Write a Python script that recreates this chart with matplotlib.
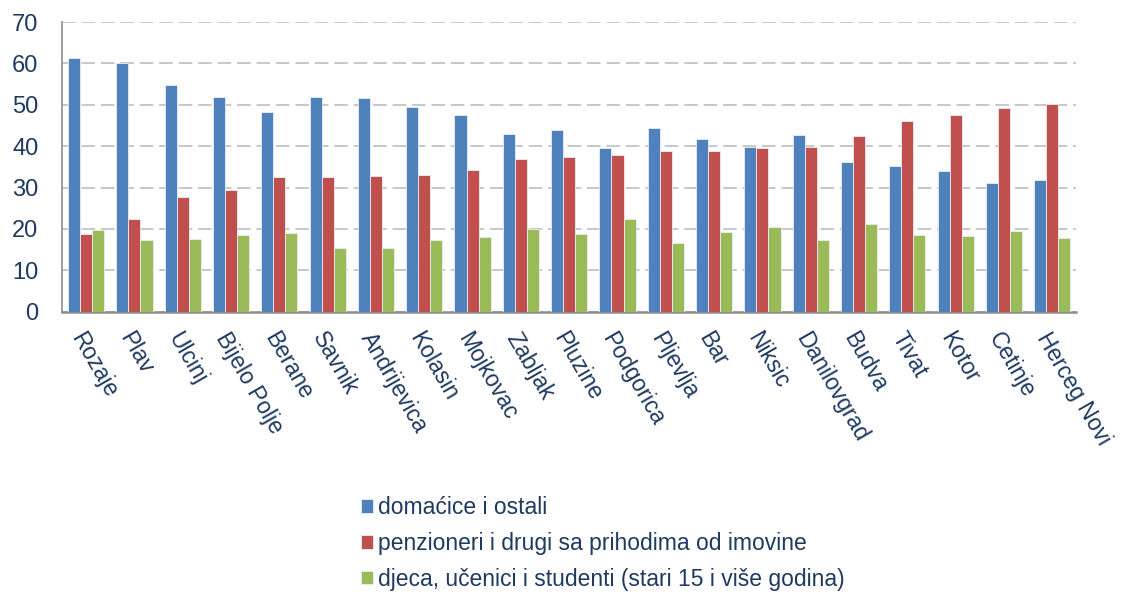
import numpy as np
import matplotlib
matplotlib.use("Agg")
import matplotlib.pyplot as plt

plt.rcParams['font.family'] = ['Liberation Sans', 'DejaVu Sans']

# data
towns = ["Rozaje", "Plav", "Ulcinj", "Bijelo Polje", "Berane", "Savnik", "Andrijevica",
         "Kolasin", "Mojkovac", "Zabljak", "Pluzine", "Podgorica", "Pljevlja", "Bar",
         "Niksic", "Danilovgrad", "Budva", "Tivat", "Kotor", "Cetinje", "Herceg Novi"]
domacice = [61.2, 60.1, 54.7, 52.0, 48.2, 51.8, 51.7, 49.4, 47.6, 42.9, 43.8,
            39.6, 44.5, 41.7, 39.9, 42.8, 36.3, 35.2, 34.0, 31.2, 31.8]
penzioneri = [18.9, 22.5, 27.7, 29.3, 32.5, 32.6, 32.9, 33.1, 34.2, 36.9, 37.3,
              37.9, 38.8, 38.9, 39.5, 39.8, 42.5, 46.0, 47.6, 49.2, 50.3]
djeca = [19.7, 17.4, 17.7, 18.6, 19.1, 15.4, 15.4, 17.4, 18.1, 20.0, 18.7,
         22.3, 16.5, 19.2, 20.5, 17.4, 21.1, 18.6, 18.3, 19.5, 17.8]

series_names = ["domaćice i ostali",
                "penzioneri i drugi sa prihodima od imovine",
                "djeca, učenici i studenti (stari 15 i više godina)"]
colors = ["#4F81BD", "#C0504D", "#9BBB59"]
text_color = "#1F3A60"

fig = plt.figure(figsize=(11.26, 5.95), dpi=100)
ax = fig.add_axes([0.055, 0.476, 0.901, 0.487])

x = np.arange(len(towns))
w = 0.25
for i, (vals, name, c) in enumerate(zip([domacice, penzioneri, djeca], series_names, colors)):
    ax.bar(x + (i - 1) * w, vals, width=w, color=c, edgecolor="#E8EEF6",
           linewidth=0.6, label=name, zorder=3)

ax.set_xlim(-0.5, len(towns) - 0.5)
ax.set_ylim(0, 70)
ax.set_yticks(range(0, 71, 10))
ax.yaxis.grid(True, linestyle=(0, (7, 3)), color="#C8C8C8", linewidth=1.4, zorder=0)
ax.set_axisbelow(True)

for s in ["top", "right"]:
    ax.spines[s].set_visible(False)
ax.spines["left"].set_color("#8C8C8C")
ax.spines["left"].set_linewidth(1.2)
ax.spines["bottom"].set_color("#8C8C8C")
ax.spines["bottom"].set_linewidth(1.8)

ax.tick_params(axis="both", length=0, labelsize=17, colors=text_color)
ax.tick_params(axis="y", pad=17)
ax.set_xticks(x)
ax.set_xticklabels(towns, rotation=-60, ha="left", va="top",
                   rotation_mode="anchor", fontsize=16.5)
ax.tick_params(axis="x", pad=12)

handles, labels = ax.get_legend_handles_labels()
fig.legend(handles, labels, loc="upper left", bbox_to_anchor=(0.310, 0.185),
           frameon=False, fontsize=16.5, handlelength=0.55, handleheight=0.55,
           handletextpad=0.22, labelspacing=0.55, labelcolor=text_color,
           borderpad=0)

fig.savefig("out.png", dpi=100)
